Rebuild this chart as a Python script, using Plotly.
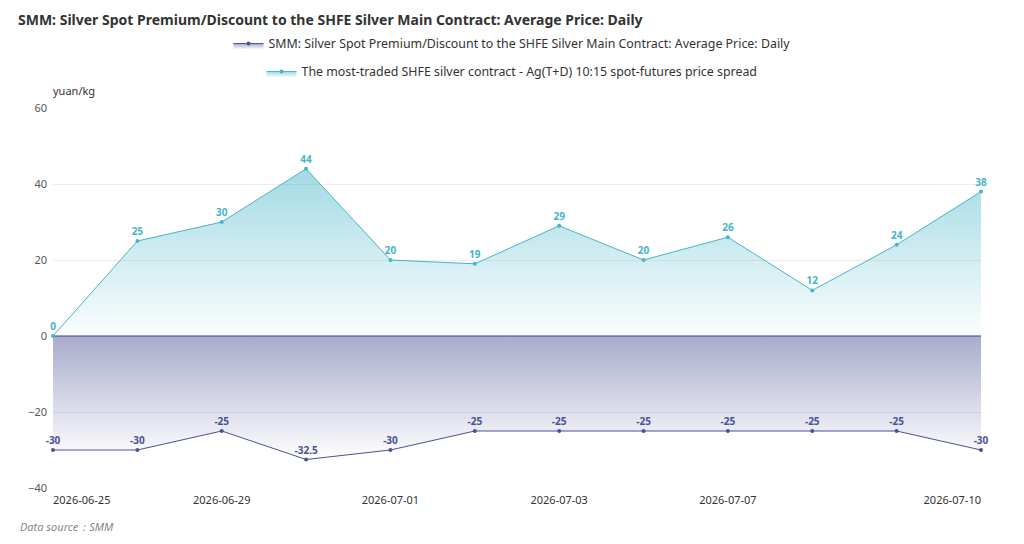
import plotly.graph_objects as go

dates = ["2026-06-25", "2026-06-26", "2026-06-29", "2026-06-30", "2026-07-01", "2026-07-02",
         "2026-07-03", "2026-07-06", "2026-07-07", "2026-07-08", "2026-07-09", "2026-07-10"]
smm_premium = [-30, -30, -25, -32.5, -30, -25, -25, -25, -25, -25, -25, -30]
agtd_spread = [0, 25, 30, 44, 20, 19, 29, 20, 26, 12, 24, 38]

name_smm = "SMM: Silver Spot Premium/Discount to the SHFE Silver Main Contract: Average Price: Daily"
name_agtd = "The most-traded SHFE silver contract - Ag(T+D) 10:15 spot-futures price spread"

NAVY = "#4a5195"
CYAN = "#45b5c8"
FONT = "Noto Sans"

W, H = 1024, 544
ML, MR, MT, MB = 53, 43, 108, 56
PW, PH = W - ML - MR, H - MT - MB


def px_to_paper_x(px):
    return (px - ML) / PW


def px_to_paper_y(py):
    return (H - MB - py) / PH


def fmt(v):
    return str(int(v)) if float(v).is_integer() else str(v)


fig = go.Figure()

fig.add_trace(go.Scatter(
    x=dates, y=smm_premium, name=name_smm, legend="legend",
    mode="lines+markers+text", cliponaxis=False,
    line=dict(color=NAVY, width=1),
    marker=dict(color=NAVY, size=4),
    fill="tozeroy",
    fillgradient=dict(type="vertical",
                      colorscale=[[0, "rgba(74,81,149,0.0)"], [1, "rgba(74,81,149,0.48)"]]),
    text=[fmt(v) for v in smm_premium], textposition="top center",
    textfont=dict(color=NAVY, size=10, family=FONT, weight="bold"),
    hoverinfo="x+y",
))

fig.add_trace(go.Scatter(
    x=dates, y=agtd_spread, name=name_agtd, legend="legend2",
    mode="lines+markers+text", cliponaxis=False,
    line=dict(color=CYAN, width=1),
    marker=dict(color=CYAN, size=4),
    fill="tozeroy",
    fillgradient=dict(type="vertical",
                      colorscale=[[0, "rgba(69,181,200,0.02)"], [1, "rgba(69,181,200,0.5)"]]),
    text=[fmt(v) for v in agtd_spread], textposition="top center",
    textfont=dict(color=CYAN, size=10, family=FONT, weight="bold"),
    hoverinfo="x+y",
))

# invisible helper traces so the overlay axes (used only for the end tick labels) are drawn
n = len(dates)
for ax in ("x2", "x3"):
    fig.add_trace(go.Scatter(x=[0, n - 1], y=[0, 0], xaxis=ax, yaxis="y",
                             mode="lines", line=dict(width=0, color="rgba(0,0,0,0)"),
                             showlegend=False, hoverinfo="skip"))

mid_ticks = [dates[i] for i in (2, 4, 6, 8)]
tickfont = dict(size=11, color="#333", family=FONT)
common_x = dict(tickangle=0, automargin=False, showgrid=False, zeroline=False,
                showline=False, ticks="", tickfont=tickfont, ticklabelstandoff=4)

fig.update_layout(
    width=W, height=H, autosize=False, showlegend=True,
    margin=dict(l=ML, r=MR, t=MT, b=MB, autoexpand=False),
    paper_bgcolor="white", plot_bgcolor="white",
    font=dict(family=FONT, color="#333", size=12),
    title=dict(text="<b>SMM: Silver Spot Premium/Discount to the SHFE Silver Main Contract: Average Price: Daily</b>",
               x=18 / W, xanchor="left", xref="container",
               y=1 - 20 / H, yanchor="middle", yref="container",
               font=dict(size=14, color="#333", family=FONT)),
    legend=dict(x=px_to_paper_x(512), xref="paper", xanchor="center",
                y=px_to_paper_y(44), yref="paper", yanchor="middle", visible=True,
                font=dict(size=12.4, color="#333", family=FONT), bgcolor="rgba(0,0,0,0)"),
    legend2=dict(x=px_to_paper_x(512), xref="paper", xanchor="center",
                 y=px_to_paper_y(72), yref="paper", yanchor="middle", visible=True,
                 font=dict(size=12.4, color="#333", family=FONT), bgcolor="rgba(0,0,0,0)"),
    xaxis=dict(type="category", categoryorder="array", categoryarray=dates,
               range=[0, n - 1], tickvals=mid_ticks, ticktext=mid_ticks, **common_x),
    xaxis2=dict(type="linear", overlaying="x", anchor="y", side="bottom",
                range=[0, n - 1], tickvals=[0], ticktext=[dates[0]],
                ticklabelposition="outside right", **common_x),
    xaxis3=dict(type="linear", overlaying="x", anchor="y", side="bottom",
                range=[0, n - 1], tickvals=[n - 1], ticktext=[dates[-1]],
                ticklabelposition="outside left", **common_x),
    yaxis=dict(range=[-40, 60], dtick=20, tick0=0, automargin=False,
               showgrid=True, gridcolor="#ececec", gridwidth=1,
               zeroline=True, zerolinecolor="#9c9fbf", zerolinewidth=1.5,
               showline=False, ticks="", ticklabelstandoff=5,
               tickfont=dict(size=11, color="#555", family=FONT)),
    annotations=[
        dict(text="yuan/kg", x=px_to_paper_x(51), xref="paper", xanchor="left",
             y=px_to_paper_y(91), yref="paper", yanchor="middle",
             showarrow=False, font=dict(size=11, color="#333", family=FONT)),
        dict(text="<i>Data source：SMM</i>", x=px_to_paper_x(18), xref="paper", xanchor="left",
             y=px_to_paper_y(526), yref="paper", yanchor="middle",
             showarrow=False, font=dict(size=11, color="#888", family=FONT)),
    ],
)

fig.write_html("out.html")
